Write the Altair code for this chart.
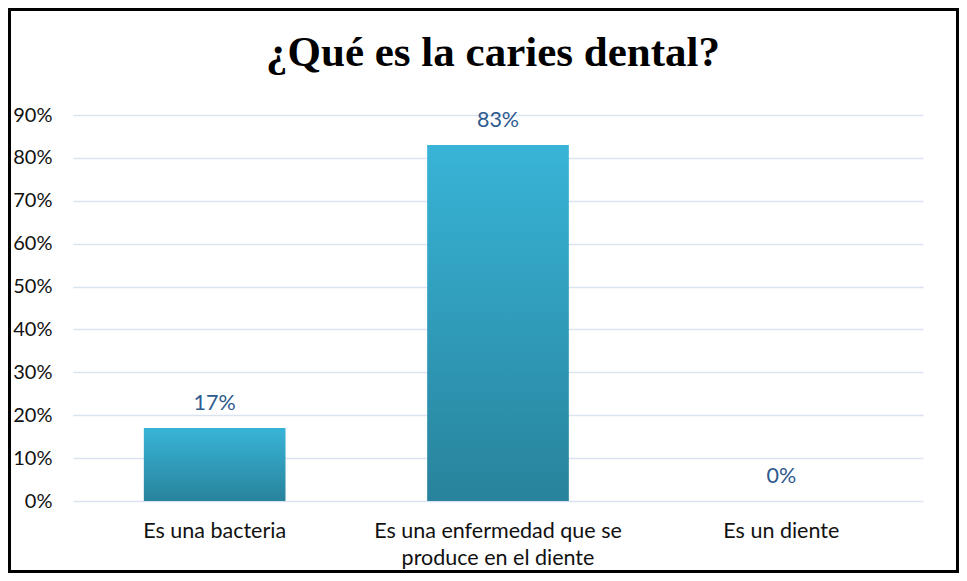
import altair as alt
import pandas as pd

categories = ["Es una bacteria", "Es una enfermedad que se produce en el diente", "Es un diente"]
values = [0.17, 0.83, 0.0]
labels = ["17%", "83%", "0%"]
title_text = ["¿Qué es la caries dental?"]

df = pd.DataFrame({"cat": categories, "val": values, "lab": labels})

W, H = 850, 386
PL, PT, PR, PB = 65, 107, 36, 72

xenc = alt.X("cat:N", sort=categories, title=None,
             scale=alt.Scale(paddingInner=0.5, paddingOuter=0.25),
             axis=alt.Axis(labelAngle=0, labelFont="Lato", labelFontSize=21.5, labelColor="#111111",
                           labelPadding=19, ticks=False, domain=False, labelLineHeight=27,
                           labelBaseline="top", labelLimit=0,
                           labelExpr="datum.label == 'Es una enfermedad que se produce en el diente' ? ['Es una enfermedad que se', 'produce en el diente'] : datum.label"))
yenc = alt.Y("val:Q", title=None,
             scale=alt.Scale(domain=[0, 0.9], nice=False),
             axis=alt.Axis(format=".0%", values=[i / 10 for i in range(10)], labelFont="Lato",
                           labelFontSize=20, labelColor="#111111", labelPadding=21, ticks=False,
                           domain=False, gridColor="#D9E3F1", gridWidth=1.5))

grad = {"x1": 0, "y1": 0, "x2": 0, "y2": 1, "gradient": "linear",
        "stops": [{"offset": 0, "color": "#38B4D7"}, {"offset": 1, "color": "#28839C"}]}

bars = alt.Chart(df).mark_bar(color=grad).encode(x=xenc, y=yenc)
text = alt.Chart(df).mark_text(font="Lato", fontSize=21.5, color="#2E5A8E", baseline="alphabetic", dy=-18).encode(
    x=alt.X("cat:N", sort=categories), y="val:Q", text="lab:N")

title = alt.Chart(pd.DataFrame({"t": title_text})).mark_text(
    font="Liberation Serif", fontSize=43, fontWeight="bold", color="#000000", baseline="alphabetic"
).encode(text="t:N", x=alt.value(420), y=alt.value(-49))

border = alt.Chart(pd.DataFrame({"a": [0]})).mark_rect(fill=None, stroke="#000000", strokeWidth=3).encode(
    x=alt.value(-PL + 1.5), x2=alt.value(W + PR - 1.5), y=alt.value(-PT + 1.5), y2=alt.value(H + PB - 1.5))

chart = alt.layer(bars, text, title, border).properties(
    width=W, height=H,
    autosize=alt.AutoSizeParams(type="none"),
    padding={"left": PL, "top": PT, "right": PR, "bottom": PB},
    background="white",
).configure_view(stroke=None)

chart.save("out.html", embed_options={"renderer": "svg", "actions": False})
